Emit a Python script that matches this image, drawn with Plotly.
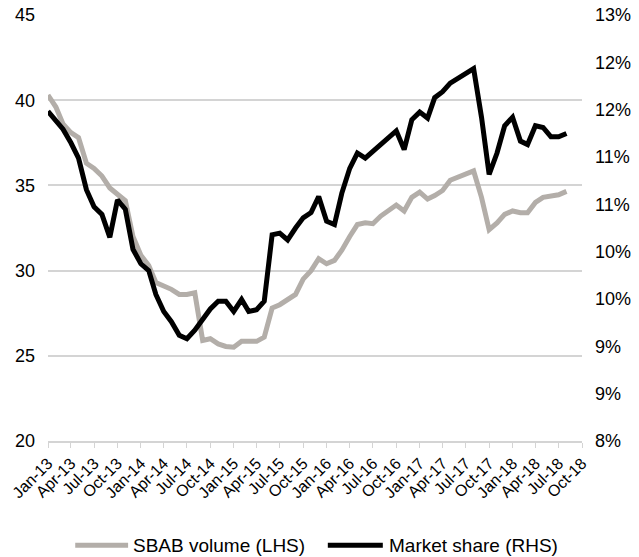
import numpy as np
import pandas as pd
import plotly.graph_objects as go

# Monthly observations, Jan-2013 onwards
months = pd.date_range("2013-01-01", periods=68, freq="MS")

# SBAB volume, left axis
sbab_volume = [
    40.3, 39.6, 38.6, 38.1, 37.8, 36.3, 36.0, 35.55, 34.85, 34.5,
    34.1, 32.0, 30.9, 30.3, 29.3, 29.1, 28.9, 28.6, 28.6, 28.7,
    25.9, 26.0, 25.7, 25.55, 25.5, 25.85, 25.85, 25.85, 26.1, 27.8,
    28.0, 28.3, 28.6, 29.5, 30.0, 30.7, 30.4, 30.6, 31.2, 32.0,
    32.7, 32.8, 32.75, 33.2, 33.5, 33.85, 33.5, 34.3, 34.6, 34.2,
    34.4, 34.7, 35.3, 35.5, 35.7, 35.85, 34.3, 32.4, 32.8, 33.3,
    33.5, 33.4, 33.4, 34.0, 34.3, 34.4, 34.45, 34.65,
]

# Market share in %, right axis
market_share = [
    11.87, 11.76, 11.66, 11.50, 11.32, 10.95, 10.75, 10.66, 10.39, 10.83,
    10.72, 10.25, 10.08, 10.00, 9.72, 9.52, 9.40, 9.24, 9.20, 9.30,
    9.42, 9.55, 9.64, 9.64, 9.52, 9.66, 9.52, 9.54, 9.64, 10.42,
    10.44, 10.36, 10.50, 10.62, 10.68, 10.87, 10.58, 10.54, 10.91, 11.20,
    11.38, 11.32, 11.40, 11.48, 11.56, 11.64, 11.42, 11.77, 11.86, 11.79,
    12.03, 12.10, 12.20, 12.26, 12.32, 12.37, 11.80, 11.13, 11.38, 11.70,
    11.80, 11.52, 11.48, 11.70, 11.68, 11.57, 11.57, 11.61,
]

# tick labels
left_ticks = [20, 25, 30, 35, 40, 45]
right_ticklabels = ["8%", "9%", "9%", "10%", "10%", "11%", "11%", "12%", "12%", "13%"]
x_ticklabels = [f"{m}-{y}" for y in range(13, 19) for m in ["Jan", "Apr", "Jul", "Oct"]]

series_names = ["SBAB volume (LHS)", "Market share (RHS)"]
series_colors = ["#b3aea9", "#000000"]

FONT = "Arial, Liberation Sans, sans-serif"
GRID = "#d4d4d4"

fig = go.Figure()

fig.add_trace(go.Scatter(
    x=months, y=sbab_volume, name=series_names[0],
    mode="lines", line=dict(color=series_colors[0], width=5),
))
fig.add_trace(go.Scatter(
    x=months, y=market_share, name=series_names[1], yaxis="y2",
    mode="lines", line=dict(color=series_colors[1], width=5),
))

x_tickvals = pd.date_range("2013-01-01", periods=len(x_ticklabels), freq="3MS")

# legend drawn by hand (longer line samples than plotly's legend)
leg_y = -0.245
leg_items = [(0.051, 0.150, 0.156), (0.524, 0.627, 0.635)]
for (x0, x1, xt), name, color in zip(leg_items, series_names, series_colors):
    fig.add_shape(type="line", xref="paper", yref="paper",
                  x0=x0, x1=x1, y0=leg_y, y1=leg_y,
                  line=dict(color=color, width=5))
    fig.add_annotation(text=name, xref="paper", yref="paper", x=xt, y=leg_y,
                       xanchor="left", yanchor="middle", showarrow=False,
                       font=dict(size=19))

fig.update_layout(
    width=639, height=557,
    margin=dict(l=48, r=57, t=15, b=116),
    plot_bgcolor="white", paper_bgcolor="white",
    font=dict(family=FONT, color="#000000"),
    showlegend=False,
    xaxis=dict(
        type="date", range=["2013-01-01", "2018-10-01"],
        tickvals=x_tickvals, ticktext=x_ticklabels, tickangle=-45,
        ticks="outside", ticklen=5, tickcolor=GRID,
        showline=True, linecolor=GRID, linewidth=1.5,
        showgrid=False, zeroline=False, automargin=False,
        tickfont=dict(size=16),
    ),
    yaxis=dict(
        range=[20, 45], tickvals=left_ticks,
        showgrid=True, gridcolor=GRID, gridwidth=1.5,
        zeroline=False, showline=False, automargin=False,
        tickfont=dict(size=18), ticklabelstandoff=12,
    ),
    yaxis2=dict(
        overlaying="y", side="right", range=[8, 13],
        tickvals=list(np.linspace(8, 13, len(right_ticklabels))),
        ticktext=right_ticklabels,
        showgrid=False, zeroline=False, showline=False, automargin=False,
        tickfont=dict(size=18), ticklabelstandoff=12,
    ),
)

# page body has a default 8px margin; drop it so the figure sits at the top-left
fig.write_html(
    "out.html",
    config={"displayModeBar": False},
    post_script="document.body.style.margin='0px';",
)
